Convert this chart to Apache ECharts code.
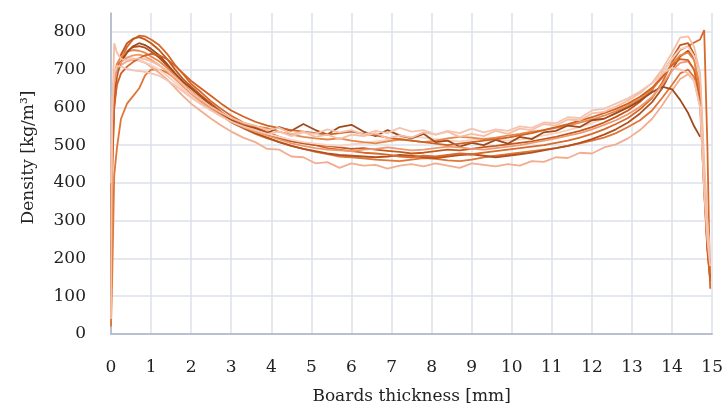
<!DOCTYPE html>
<html>
<head>
<meta charset="utf-8">
<title>Density profiles</title>
<script src="https://cdn.jsdelivr.net/npm/echarts@6/dist/echarts.min.js"></script>
<style>
  html, body { margin: 0; padding: 0; background: #fff; }
  #chart { width: 726px; height: 415px; }
</style>
</head>
<body>
<div id="chart"></div>
<script>
// board thickness positions [mm], shared by all profiles
var thickness = [0, 0.03, 0.08, 0.15, 0.25, 0.4, 0.55, 0.7, 0.85, 1.0,
  1.2, 1.4, 1.6, 1.8, 2.0, 2.25, 2.5, 2.75, 3.0, 3.3,
  3.6, 3.9, 4.2, 4.5, 4.8, 5.1, 5.4, 5.7, 6.0, 6.3,
  6.6, 6.9, 7.2, 7.5, 7.8, 8.1, 8.4, 8.7, 9.0, 9.3,
  9.6, 9.9, 10.2, 10.5, 10.8, 11.1, 11.4, 11.7, 12.0, 12.3,
  12.6, 12.9, 13.2, 13.5, 13.75, 14.0, 14.2, 14.4, 14.55, 14.7,
  14.8, 14.88, 14.95];

// density [kg/m3] per board
var board1 = [280, 560, 650, 690, 720, 745, 762, 770, 765, 755,
  738, 715, 690, 668, 650, 628, 605, 585, 566, 552,
  545, 532, 548, 538, 556, 540, 528, 548, 554, 536,
  524, 540, 526, 518, 530, 508, 512, 496, 506, 500,
  514, 504, 522, 516, 534, 538, 552, 548, 566, 570,
  585, 600, 618, 640, 655, 648, 620, 585, 550, 522,
  null, null, null];
var board2 = [120, 480, 620, 700, 740, 770, 782, 786, 780, 770,
  752, 728, 700, 675, 655, 632, 610, 588, 570, 556,
  540, 528, 518, 510, 505, 500, 498, 494, 490, 492,
  488, 485, 482, 478, 480, 484, 488, 486, 490, 495,
  498, 502, 506, 510, 516, 522, 530, 538, 548, 560,
  575, 592, 615, 645, 690, 730, 765, 770, 740, 660,
  420, 230, 150];
var board3 = [60, 420, 600, 680, 730, 760, 780, 790, 788, 780,
  765, 742, 712, 688, 662, 640, 616, 596, 578, 560,
  548, 535, 522, 512, 506, 500, 492, 488, 484, 480,
  478, 475, 470, 468, 472, 470, 474, 478, 476, 480,
  484, 488, 492, 496, 500, 506, 512, 520, 530, 542,
  556, 572, 595, 625, 665, 720, 752, 762, 772, 780,
  805, 500, 120];
var board4 = [20, 150, 420, 494, 570, 610, 630, 650, 685, 700,
  700, 692, 678, 660, 640, 618, 598, 580, 560, 545,
  530, 518, 508, 498, 490, 482, 476, 470, 468, 465,
  462, 460, 458, 462, 466, 464, 460, 458, 462, 468,
  472, 476, 480, 484, 488, 492, 498, 505, 512, 520,
  532, 548, 566, 592, 625, 660, 690, 700, 680, 610,
  380, 220, 140];
var board5 = [350, 600, 680, 715, 735, 748, 752, 750, 745, 735,
  722, 705, 684, 662, 642, 622, 602, 584, 570, 558,
  550, 545, 535, 528, 522, 518, 515, 518, 512, 508,
  505, 510, 515, 512, 508, 512, 518, 522, 520, 516,
  520, 525, 530, 536, 540, 546, 552, 560, 568, 578,
  590, 604, 622, 648, 678, 715, 738, 745, 725, 650,
  420, 250, 160];
var board6 = [250, 580, 660, 700, 720, 732, 738, 740, 735, 726,
  712, 695, 675, 655, 636, 615, 596, 578, 562, 548,
  536, 525, 515, 505, 498, 492, 488, 486, 484, 488,
  490, 494, 490, 486, 488, 492, 496, 494, 490, 488,
  492, 496, 500, 506, 512, 518, 525, 532, 542, 554,
  566, 582, 602, 628, 660, 698, 718, 722, 700, 630,
  400, 260, 180];
var board7 = [180, 520, 640, 690, 712, 722, 726, 724, 718, 708,
  692, 674, 652, 630, 610, 590, 570, 552, 536, 520,
  508, 490, 488, 470, 468, 452, 455, 440, 452, 446,
  448, 438, 446, 450, 444, 452, 446, 440, 452, 448,
  444, 450, 446, 458, 456, 468, 466, 480, 478, 494,
  502, 518, 540, 570, 605, 645, 675, 688, 670, 600,
  380, 240, 190];
var board8 = [40, 560, 770, 745, 728, 725, 728, 730, 728, 722,
  712, 698, 680, 660, 640, 620, 602, 586, 572, 560,
  552, 540, 546, 530, 536, 522, 528, 516, 528, 524,
  532, 518, 526, 520, 534, 528, 536, 522, 530, 524,
  538, 530, 544, 540, 556, 552, 568, 566, 584, 588,
  602, 618, 638, 665, 700, 745, 785, 788, 760, 690,
  460, 300, 200];
var board9 = [300, 590, 690, 718, 728, 732, 730, 726, 720, 712,
  700, 684, 666, 648, 630, 612, 594, 578, 564, 550,
  540, 530, 522, 514, 508, 504, 500, 498, 502, 506,
  510, 514, 518, 522, 520, 516, 512, 510, 514, 518,
  516, 512, 515, 520, 526, 532, 540, 548, 558, 570,
  584, 600, 622, 650, 690, 730, 755, 760, 735, 670,
  440, 290, 200];
var board10 = [200, 520, 640, 690, 725, 748, 760, 762, 758, 748,
  732, 710, 686, 662, 640, 618, 598, 580, 562, 546,
  532, 520, 508, 498, 490, 484, 478, 474, 472, 470,
  468, 470, 474, 472, 468, 466, 470, 474, 476, 472,
  468, 472, 476, 480, 486, 492, 498, 506, 516, 528,
  542, 560, 584, 614, 650, 700, 735, 750, 730, 640,
  400, 240, 150];
var board11 = [100, 450, 600, 660, 690, 708, 720, 730, 738, 742,
  738, 728, 710, 690, 670, 650, 630, 610, 592, 576,
  562, 552, 545, 540, 536, 532, 528, 532, 536, 530,
  526, 520, 516, 512, 508, 504, 500, 504, 508, 512,
  516, 520, 526, 532, 540, 548, 556, 565, 574, 585,
  596, 610, 628, 652, 680, 712, 728, 725, 700, 620,
  380, 230, 140];
var board12 = [400, 620, 690, 710, 708, 702, 698, 696, 694, 690,
  684, 672, 658, 642, 626, 608, 592, 576, 562, 550,
  540, 530, 536, 524, 534, 530, 542, 534, 540, 528,
  538, 532, 546, 536, 540, 528, 538, 532, 544, 534,
  542, 538, 550, 546, 560, 558, 574, 572, 592, 596,
  610, 624, 642, 664, 690, 705, 700, 690, 670, 600,
  380, 250, 180];

var boards = [board4, board10, board3, board7, board2, board9, board5, board1, board6, board11, board8, board12];
var colors = ['#e07535', '#b0511f', '#d8692a', '#f2ad8e', '#c4581c', '#f8d2c2',
  '#e8864a', '#a04a1c', '#ee9a70', '#d06224', '#f5bea6', '#f4c4b0'];

var chart = echarts.init(document.getElementById('chart'));
var font = 'DejaVu Serif';

var series = [];
for (var i = 0; i < boards.length; i++) {
  var pts = [];
  for (var j = 0; j < thickness.length; j++) {
    pts.push([thickness[j], boards[i][j]]);
  }
  series.push({
    type: 'line',
    data: pts,
    showSymbol: false,
    lineStyle: { color: colors[i], width: 1.8 },
    animation: false
  });
}

var option = {
  grid: { left: 111, right: 13, top: 13, bottom: 81 },
  xAxis: {
    type: 'value',
    min: 0, max: 15, interval: 1,
    name: 'Boards thickness [mm]',
    nameLocation: 'middle',
    nameGap: 54,
    nameTextStyle: { fontFamily: font, fontSize: 17, color: '#222' },
    axisLine: { show: true, lineStyle: { color: '#aab4c6', width: 1.5 } },
    axisTick: { show: false },
    axisLabel: { fontFamily: font, fontSize: 17, color: '#222', margin: 25 },
    splitLine: { show: true, lineStyle: { color: '#dce1ea', width: 1.5 } }
  },
  yAxis: {
    type: 'value',
    min: 0, max: 850, interval: 100,
    name: 'Density [kg/m³]',
    nameLocation: 'middle',
    nameGap: 74,
    nameTextStyle: { fontFamily: font, fontSize: 17, color: '#222', padding: [0, 0, 0, 32] },
    axisLine: { show: true, lineStyle: { color: '#aab4c6', width: 1.5 } },
    axisTick: { show: false },
    axisLabel: { fontFamily: font, fontSize: 17, color: '#222', margin: 25, showMaxLabel: false },
    splitLine: { show: true, showMaxLine: false, lineStyle: { color: '#dce1ea', width: 1.5 } }
  },
  series: series
};

chart.setOption(option);
</script>
</body>
</html>
